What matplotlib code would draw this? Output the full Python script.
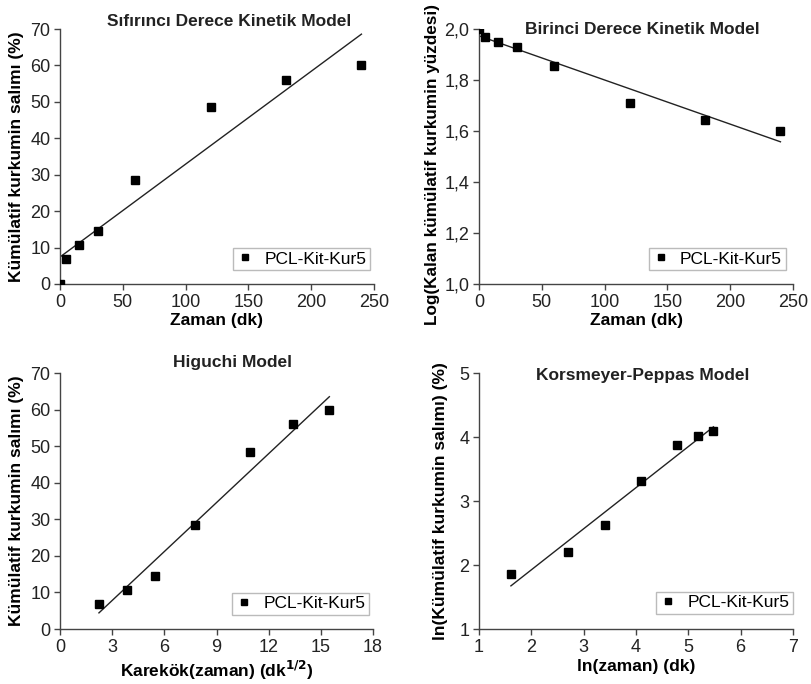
import matplotlib.pyplot as plt
import numpy as np
from matplotlib.ticker import FuncFormatter

plt.rcParams['font.family'] = ['Liberation Sans', 'DejaVu Sans']

# release data for PCL-Kit-Kur5
zaman = [0, 5, 15, 30, 60, 120, 180, 240]
salim = [0, 6.8, 10.6, 14.6, 28.5, 48.5, 56.0, 60.0]
log_kalan = [2.0, 1.97, 1.95, 1.93, 1.855, 1.71, 1.645, 1.60]
karekok = [2.24, 3.87, 5.48, 7.75, 10.95, 13.42, 15.49]
salim_h = [6.8, 10.6, 14.6, 28.5, 48.5, 56.0, 60.0]
ln_zaman = [1.61, 2.71, 3.40, 4.09, 4.79, 5.19, 5.48]
ln_salim = [1.86, 2.20, 2.63, 3.31, 3.87, 4.02, 4.10]

W, H = 811, 684
fig = plt.figure(figsize=(W / 100, H / 100), dpi=100)


def axes_px(x0, x1, y0, y1):
    return fig.add_axes([x0 / W, 1 - y1 / H, (x1 - x0) / W, (y1 - y0) / H])


def panel(ax, x, y, xlim, xticks, ylim, yticks, title, title_xy, leg_xy, comma=False):
    ax.set_xlim(*xlim)
    ax.set_ylim(*ylim)
    ax.set_xticks(xticks)
    ax.set_yticks(yticks)
    for s in ['top', 'right']:
        ax.spines[s].set_visible(False)
    for s in ['left', 'bottom']:
        ax.spines[s].set_color('#444444')
        ax.spines[s].set_linewidth(1.0)
    ax.tick_params(direction='out', length=4, width=1.0, color='#444444',
                   labelsize=13, labelcolor='#222222', pad=3)
    if comma:
        ax.yaxis.set_major_formatter(FuncFormatter(lambda v, p: f'{v:.1f}'.replace('.', ',')))

    # linear fit through the points
    k, b = np.polyfit(x, y, 1)
    xf = np.array([x[0], x[-1]])
    ax.plot(xf, k * xf + b, color='#222222', lw=1.0, zorder=2)

    ax.plot(x, y, 's', color='black', ms=5.5, zorder=3, label='PCL-Kit-Kur5')

    leg = ax.legend(loc='lower left', bbox_to_anchor=leg_xy, borderaxespad=0,
                    fontsize=12.5, frameon=True, fancybox=False, handlelength=1.0,
                    handletextpad=0.6, borderpad=0.2, markerscale=0.85)
    leg.get_frame().set_edgecolor('#aaaaaa')
    leg.get_frame().set_linewidth(1.0)

    ax.text(title_xy[0], title_xy[1], title, transform=ax.transAxes, ha='center',
            va='center', fontsize=12.5, fontweight='bold', color='#222222')


ax1 = axes_px(60, 374, 29, 284)
panel(ax1, zaman, salim, (0, 250), [0, 50, 100, 150, 200, 250], (0, 70),
      range(0, 71, 10), 'Sıfırıncı Derece Kinetik Model', (0.54, 1.03), (0.551, 0.055))
ax1.set_xlabel('Zaman (dk)', fontsize=12.5, fontweight='bold', labelpad=2)
ax1.set_ylabel('Kümülatif kurkumin salımı (%)', fontsize=12.5, fontweight='bold', labelpad=4)

ax2 = axes_px(479, 793, 29, 284)
panel(ax2, zaman, log_kalan, (0, 250), [0, 50, 100, 150, 200, 250], (1.0, 2.0),
      np.arange(1.0, 2.01, 0.2), 'Birinci Derece Kinetik Model', (0.52, 1.0),
      (0.541, 0.055), comma=True)
ax2.set_xlabel('Zaman (dk)', fontsize=12.5, fontweight='bold', labelpad=2)
ax2.set_ylabel('Log(Kalan kümülatif kurkumin yüzdesi)', fontsize=12.3, fontweight='bold')
ax2.yaxis.set_label_coords(-0.125, 0.47)

ax3 = axes_px(60, 373, 373, 629)
panel(ax3, karekok, salim_h, (0, 18), range(0, 19, 3), (0, 70),
      range(0, 71, 10), 'Higuchi Model', (0.55, 1.04), (0.55, 0.055))
ax3.set_xlabel('Karekök(zaman) (dk$^{\\mathbf{1/2}}$)', fontsize=12.5, fontweight='bold', labelpad=2)
ax3.set_ylabel('Kümülatif kurkumin salımı (%)', fontsize=12.5, fontweight='bold', labelpad=4)

ax4 = axes_px(479, 793, 373, 629)
panel(ax4, ln_zaman, ln_salim, (1, 7), range(1, 8), (1, 5),
      range(1, 6), 'Korsmeyer-Peppas Model', (0.52, 0.99), (0.564, 0.059))
ax4.set_xlabel('ln(zaman) (dk)', fontsize=12.5, fontweight='bold', labelpad=2)
ax4.set_ylabel('ln(Kümülatif kurkumin salımı) (%)', fontsize=12.5, fontweight='bold', labelpad=8)

fig.savefig('out.png', dpi=100, facecolor='white')
